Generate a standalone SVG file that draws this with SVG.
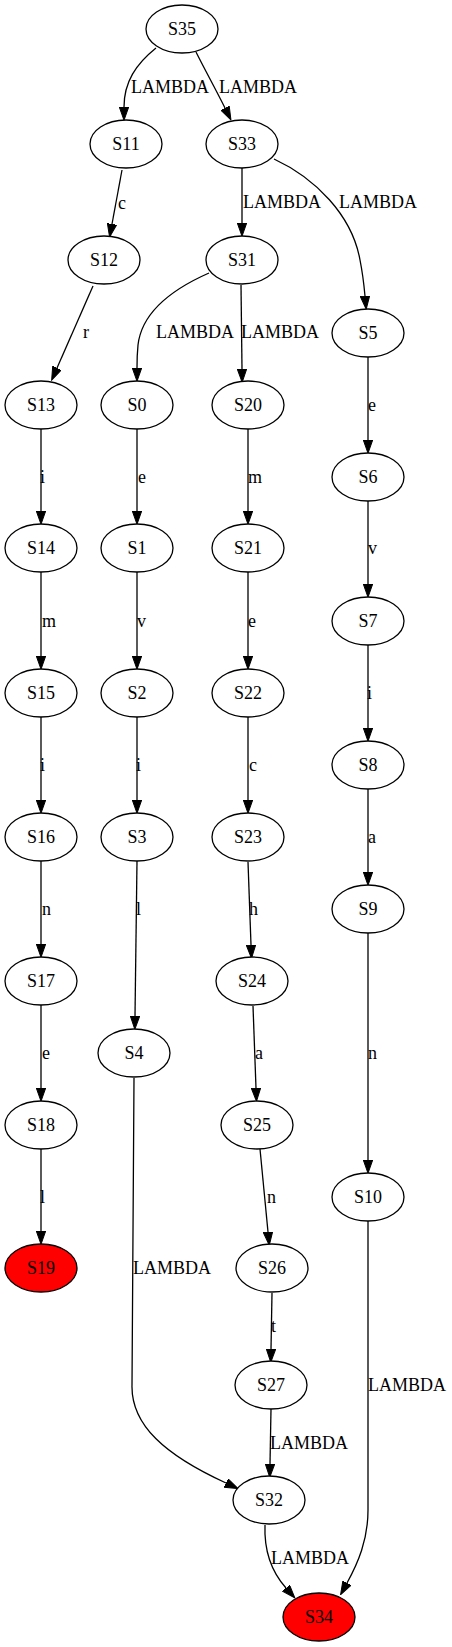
<svg xmlns="http://www.w3.org/2000/svg" width="452" height="1647" viewBox="0 0 452 1647">
<style>
.n ellipse{fill:#fff;stroke:#000;stroke-width:1.3}
.n.f ellipse{fill:#ff0000}
text{font-family:"Liberation Serif","Times New Roman",serif;font-size:18px;fill:#000}
.n text{text-anchor:middle}
.e path{fill:none;stroke:#000;stroke-width:1.3;marker-end:url(#ah)}
</style>
<defs>
<marker id="ah" markerWidth="14" markerHeight="10" refX="0" refY="5" orient="auto" markerUnits="userSpaceOnUse">
<path d="M0,0.3 L13.3,5 L0,9.7 z" fill="#000" stroke="#000" stroke-width="1"/>
</marker>
</defs>
<rect width="452" height="1647" fill="#fff"/>
<g id="edges" class="e">
<path d="M156,48 C136,64 124,82 124,107"/>
<text x="131" y="93">LAMBDA</text>
<path d="M196,52 C205,70 215,88 225,108"/>
<text x="219" y="93">LAMBDA</text>
<path d="M122,170 L112,224"/>
<text x="118" y="209">c</text>
<path d="M242,168 L242,223"/>
<text x="243" y="208">LAMBDA</text>
<path d="M274,159 C315,178 352,215 360,260 C363,275 364,285 365,296"/>
<text x="339" y="208">LAMBDA</text>
<path d="M93,286 L57,368"/>
<text x="83" y="338">r</text>
<path d="M209,273 C175,288 142,310 138,345 C137,355 137,362 137,368"/>
<text x="156" y="338">LAMBDA</text>
<path d="M241,285 L242,369"/>
<text x="241" y="338">LAMBDA</text>
<path d="M41,429 L41,511"/><text x="40" y="483">i</text>
<path d="M41,572 L41,656"/><text x="42" y="627">m</text>
<path d="M41,717 L41,800"/><text x="40" y="771">i</text>
<path d="M41,861 L41,944"/><text x="42" y="915">n</text>
<path d="M41,1005 L41,1088"/><text x="42" y="1059">e</text>
<path d="M41,1149 L41,1231"/><text x="40" y="1203">l</text>
<path d="M137,429 L137,511"/><text x="138" y="483">e</text>
<path d="M137,572 L137,656"/><text x="137" y="627">v</text>
<path d="M137,717 L137,800"/><text x="136" y="771">i</text>
<path d="M137,861 L135,1016"/><text x="136" y="915">l</text>
<path d="M248,429 L248,511"/><text x="248" y="483">m</text>
<path d="M248,572 L248,656"/><text x="248" y="627">e</text>
<path d="M248,717 L248,800"/><text x="249" y="771">c</text>
<path d="M248,862 L251,945"/><text x="249" y="915">h</text>
<path d="M253,1006 L256,1088"/><text x="255" y="1059">a</text>
<path d="M260,1149 L268,1232"/><text x="267" y="1203">n</text>
<path d="M272,1293 L271,1349"/><text x="271" y="1332">t</text>
<path d="M271,1409 L270,1464"/><text x="270" y="1449">LAMBDA</text>
<path d="M368,357 L368,440"/><text x="368" y="411">e</text>
<path d="M368,501 L368,584"/><text x="368" y="554">v</text>
<path d="M368,645 L368,728"/><text x="367" y="699">i</text>
<path d="M368,789 L368,872"/><text x="368" y="843">a</text>
<path d="M368,933 L368,1160"/><text x="368" y="1059">n</text>
<path d="M134,1078 L132,1385 C131,1425 165,1455 226,1483"/>
<text x="133" y="1274">LAMBDA</text>
<path d="M368,1221 L368,1510 C368,1540 358,1563 347,1583"/>
<text x="368" y="1391">LAMBDA</text>
<path d="M265,1525 C264,1550 270,1570 286,1588"/>
<text x="271" y="1564">LAMBDA</text>
</g>
<g id="S35" class="n"><ellipse cx="182" cy="29" rx="36" ry="24"/><text x="182" y="35">S35</text></g>
<g id="S11" class="n"><ellipse cx="126" cy="144" rx="36" ry="24"/><text x="126" y="150">S11</text></g>
<g id="S33" class="n"><ellipse cx="242" cy="144" rx="36" ry="24"/><text x="242" y="150">S33</text></g>
<g id="S12" class="n"><ellipse cx="104" cy="260" rx="36" ry="24"/><text x="104" y="266">S12</text></g>
<g id="S31" class="n"><ellipse cx="242" cy="260" rx="36" ry="24"/><text x="242" y="266">S31</text></g>
<g id="S5" class="n"><ellipse cx="368" cy="333" rx="36" ry="24"/><text x="368" y="339">S5</text></g>
<g id="S13" class="n"><ellipse cx="41" cy="405" rx="36" ry="24"/><text x="41" y="411">S13</text></g>
<g id="S0" class="n"><ellipse cx="137" cy="405" rx="36" ry="24"/><text x="137" y="411">S0</text></g>
<g id="S20" class="n"><ellipse cx="248" cy="405" rx="36" ry="24"/><text x="248" y="411">S20</text></g>
<g id="S6" class="n"><ellipse cx="368" cy="477" rx="36" ry="24"/><text x="368" y="483">S6</text></g>
<g id="S14" class="n"><ellipse cx="41" cy="548" rx="36" ry="24"/><text x="41" y="554">S14</text></g>
<g id="S1" class="n"><ellipse cx="137" cy="548" rx="36" ry="24"/><text x="137" y="554">S1</text></g>
<g id="S21" class="n"><ellipse cx="248" cy="548" rx="36" ry="24"/><text x="248" y="554">S21</text></g>
<g id="S7" class="n"><ellipse cx="368" cy="621" rx="36" ry="24"/><text x="368" y="627">S7</text></g>
<g id="S15" class="n"><ellipse cx="41" cy="693" rx="36" ry="24"/><text x="41" y="699">S15</text></g>
<g id="S2" class="n"><ellipse cx="137" cy="693" rx="36" ry="24"/><text x="137" y="699">S2</text></g>
<g id="S22" class="n"><ellipse cx="248" cy="693" rx="36" ry="24"/><text x="248" y="699">S22</text></g>
<g id="S8" class="n"><ellipse cx="368" cy="765" rx="36" ry="24"/><text x="368" y="771">S8</text></g>
<g id="S16" class="n"><ellipse cx="41" cy="837" rx="36" ry="24"/><text x="41" y="843">S16</text></g>
<g id="S3" class="n"><ellipse cx="137" cy="837" rx="36" ry="24"/><text x="137" y="843">S3</text></g>
<g id="S23" class="n"><ellipse cx="248" cy="837" rx="36" ry="24"/><text x="248" y="843">S23</text></g>
<g id="S9" class="n"><ellipse cx="368" cy="909" rx="36" ry="24"/><text x="368" y="915">S9</text></g>
<g id="S17" class="n"><ellipse cx="41" cy="981" rx="36" ry="24"/><text x="41" y="987">S17</text></g>
<g id="S24" class="n"><ellipse cx="252" cy="981" rx="36" ry="24"/><text x="252" y="987">S24</text></g>
<g id="S4" class="n"><ellipse cx="134" cy="1053" rx="36" ry="24"/><text x="134" y="1059">S4</text></g>
<g id="S18" class="n"><ellipse cx="41" cy="1125" rx="36" ry="24"/><text x="41" y="1131">S18</text></g>
<g id="S25" class="n"><ellipse cx="257" cy="1125" rx="36" ry="24"/><text x="257" y="1131">S25</text></g>
<g id="S10" class="n"><ellipse cx="368" cy="1197" rx="36" ry="24"/><text x="368" y="1203">S10</text></g>
<g id="S19" class="n f"><ellipse cx="41" cy="1268" rx="36" ry="24"/><text x="41" y="1274">S19</text></g>
<g id="S26" class="n"><ellipse cx="272" cy="1268" rx="36" ry="24"/><text x="272" y="1274">S26</text></g>
<g id="S27" class="n"><ellipse cx="271" cy="1385" rx="36" ry="24"/><text x="271" y="1391">S27</text></g>
<g id="S32" class="n"><ellipse cx="269" cy="1500" rx="36" ry="24"/><text x="269" y="1506">S32</text></g>
<g id="S34" class="n f"><ellipse cx="319" cy="1617" rx="36" ry="24"/><text x="319" y="1623">S34</text></g>
</svg>
